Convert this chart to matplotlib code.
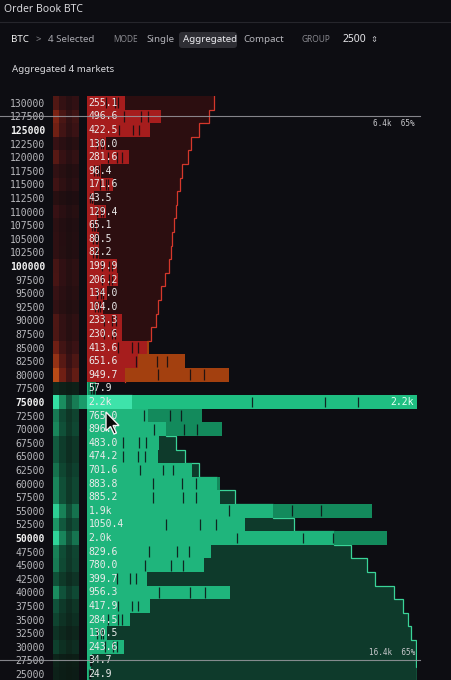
import matplotlib
matplotlib.use("Agg")
import matplotlib.pyplot as plt
import matplotlib.transforms as mtransforms
from matplotlib.patches import Polygon, FancyBboxPatch
from matplotlib.colors import LinearSegmentedColormap
import numpy as np

# Order book levels (price, aggregated size over 4 markets)
ask_prices = [130000, 127500, 125000, 122500, 120000, 117500, 115000, 112500, 110000,
              107500, 105000, 102500, 100000, 97500, 95000, 92500, 90000, 87500, 85000,
              82500, 80000]
ask_sizes = [255.1, 496.6, 422.5, 130.0, 281.6, 96.4, 171.6, 43.5, 129.4, 65.1, 80.5,
             82.2, 199.9, 206.2, 134.0, 104.0, 233.3, 230.6, 413.6, 651.6, 949.7]
bid_prices = [77500, 75000, 72500, 70000, 67500, 65000, 62500, 60000, 57500, 55000,
              52500, 50000, 47500, 45000, 42500, 40000, 37500, 35000, 32500, 30000,
              27500, 25000]
bid_sizes = [57.9, 2200, 765.0, 896.7, 483.0, 474.2, 701.6, 883.8, 885.2, 1900, 1050.4,
             2000, 829.6, 780.0, 399.7, 956.3, 417.9, 284.5, 130.5, 243.6, 34.7, 24.9]
# ask depth that sits below the first visible ask level
ask_depth_carry = 950.0
# rough share of each market inside one level
market_split = [0.5, 0.22, 0.1, 0.18]

major_prices = [125000, 100000, 75000, 50000]
hover_price = 75000
mark_prices = [127500, 27500]
mark_labels = ["6.4k", "16.4k"]
mark_pct = "65%"

BG = "#0d0d12"
MONO = "DejaVu Sans Mono"
SANS = ["Noto Sans", "DejaVu Sans"]
W, H = 452, 680
ROW_TOP = 96.0   # px, top edge of the first row
ROW_PX = 13.6    # px per row

fig = plt.figure(figsize=(W / 100, H / 100), dpi=100, facecolor=BG)

prices = ask_prices + bid_prices
n_rows = len(prices)
rows_ask = np.arange(len(ask_prices))
rows_bid = np.arange(len(ask_prices), n_rows)
y_hi = -0.5 + (H - ROW_TOP) / ROW_PX
ax_h = (H - ROW_TOP) / H


def fmt(v):
    return f"{v / 1000:.1f}k" if v >= 1500 else f"{v:.1f}"


def step_verts(depth, rws):
    verts = [(0, rws[0] - 0.5)]
    for d, r in zip(depth, rws):
        verts += [(d, r - 0.5), (d, r + 0.5)]
    verts.append((0, rws[-1] + 0.5))
    return verts


ask_depth = ask_depth_carry + np.cumsum(ask_sizes[::-1])[::-1]
bid_depth = np.cumsum(bid_sizes)

# cumulative depth axes (under), size axes (over)
ax_cum = fig.add_axes([87 / W, 0, 330 / W, ax_h])
ax_cum.set_facecolor(BG)
ax_cum.set_xlim(0, bid_depth[-1])
ax_cum.set_ylim(y_hi, -0.5)
ax_cum.axis("off")

ask_poly = Polygon(step_verts(ask_depth, rows_ask), closed=True, facecolor="#2c0e10", edgecolor="none")
bid_poly = Polygon(step_verts(bid_depth, rows_bid), closed=True, facecolor="#0e3a2b", edgecolor="none")
ax_cum.add_patch(ask_poly)
ax_cum.add_patch(bid_poly)
for depth, rws, col in [(ask_depth, rows_ask, "#d4372b"), (bid_depth, rows_bid, "#3ad398")]:
    v = np.array(step_verts(depth, rws)[1:-1])
    ax_cum.plot(v[:, 0], v[:, 1], color=col, lw=0.9, solid_joinstyle="miter")

ax_bar = ax_cum.twiny()
ax_bar.set_xlim(0, max(ask_sizes + bid_sizes))
ax_bar.set_ylim(y_hi, -0.5)
ax_bar.axis("off")

hover_row = prices.index(hover_price)
bid_beyond = ["#1fbf82" if r == hover_row else "#138a5c" for r in rows_bid]
bid_bright = ["#3ee3aa" if r == hover_row else "#1fb57c" for r in rows_bid]

# individual size bars: beyond depth is dimmer, inside depth is bright
ax_bar.barh(rows_ask, ask_sizes, height=1.0, color="#a3400f", lw=0)
ax_bar.barh(rows_bid, bid_sizes, height=1.0, color=bid_beyond, lw=0)
for b in ax_bar.barh(rows_ask, ask_sizes, height=1.0, color="#a61d1d", lw=0):
    b.set_clip_path(ask_poly)
for b in ax_bar.barh(rows_bid, bid_sizes, height=1.0, color=bid_bright, lw=0):
    b.set_clip_path(bid_poly)

# market separators inside each level
split_edges = np.cumsum(market_split)[:-1]
for rws, sizes in [(rows_ask, ask_sizes), (rows_bid, bid_sizes)]:
    for r, s in zip(rws, sizes):
        ax_bar.vlines(s * split_edges, r - 0.4, r + 0.4, color=BG, lw=0.9, alpha=0.85)

# size labels
for r, s in zip(list(rows_ask) + list(rows_bid), ask_sizes + bid_sizes):
    ax_bar.annotate(fmt(s), xy=(0, r), xytext=(1.2, 0), textcoords="offset points",
                    va="center", ha="left", fontsize=7, family=MONO, color="#ececec")
hover_size = bid_sizes[bid_prices.index(hover_price)]
ax_bar.annotate(fmt(hover_size), xy=(hover_size, hover_row), xytext=(-2, 0),
                textcoords="offset points", va="center", ha="right", fontsize=7,
                family=MONO, color="#e8fff5")

# per-market heat column
ax_heat = fig.add_axes([53 / W, 0, 26 / W, ax_h])
ax_heat.set_facecolor(BG)
split = np.array(market_split)
ask_heat = np.array(ask_sizes)[:, None] * split[None, :]
bid_heat = np.array(bid_sizes)[:, None] * split[None, :]
red_cmap = LinearSegmentedColormap.from_list("r", ["#160c0f", "#3a1214", "#7a2214", "#b84a16"])
green_cmap = LinearSegmentedColormap.from_list("g", ["#0c1712", "#0f4a34", "#1c9a68", "#33e0a3"])
xe = np.arange(5)
ax_heat.pcolormesh(xe, np.append(rows_ask - 0.5, rows_ask[-1] + 0.5), (ask_heat / ask_heat.max()) ** 0.6,
                   cmap=red_cmap, vmin=0, vmax=1)
ax_heat.pcolormesh(xe, np.append(rows_bid - 0.5, rows_bid[-1] + 0.5), (bid_heat / bid_heat.max()) ** 0.6,
                   cmap=green_cmap, vmin=0, vmax=1)
ax_heat.set_xlim(0, 4)
ax_heat.set_ylim(y_hi, -0.5)
for s in ax_heat.spines.values():
    s.set_visible(False)
ax_heat.set_xticks([])
ax_heat.set_yticks(np.arange(n_rows))
ax_heat.set_yticklabels([str(p) for p in prices], family=MONO, fontsize=7)
ax_heat.tick_params(axis="y", length=0, pad=5.8)
for lab, p in zip(ax_heat.get_yticklabels(), prices):
    lab.set_color("#f2f2f2" if p in major_prices else "#b9b9bd")
    if p in major_prices:
        lab.set_fontweight("bold")

# UI overlay in pixel coordinates
ui = fig.add_axes([0, 0, 1, 1], facecolor="none")
ui.set_xlim(0, W)
ui.set_ylim(H, 0)
ui.axis("off")

# hovered row band between heat column and bars
band = mtransforms.blended_transform_factory(ui.transData, ax_cum.transData)
ui.add_patch(plt.Rectangle((79, hover_row - 0.5), 8, 1, transform=band, color="#1a9b6a", lw=0))

# depth markers
for p, lab in zip(mark_prices, mark_labels):
    r = prices.index(p)
    ui.plot([0, 420], [r, r], transform=band, color="#9a9aa0", lw=0.8, alpha=0.85)
    dy = 0.55 if r < n_rows / 2 else -0.55
    ui.text(415, r + dy, f"{lab}  {mark_pct}", transform=band, ha="right", va="center",
            fontsize=5.5, family=MONO, color="#c8c8cc")

# header
ui.text(4, 10, "Order Book BTC", fontsize=7.5, family=SANS, color="#d8d8dc", va="center")
ui.plot([0, W], [22, 22], color="#26262c", lw=0.8)
ui.add_patch(FancyBboxPatch((179, 32), 58, 16, boxstyle="round,pad=0,rounding_size=3",
                            facecolor="#2e2e34", edgecolor="none"))
header = [(11, "BTC", "#f2f2f2", 7, "bold"), (36, ">", "#8d8d92", 7, "normal"),
          (48, "4 Selected", "#a8a8ae", 7, "normal"), (113, "MODE", "#86868c", 6, "normal"),
          (146, "Single", "#b4b4ba", 7, "normal"), (183, "Aggregated", "#ececf0", 7, "normal"),
          (243, "Compact", "#b4b4ba", 7, "normal"), (302, "GROUP", "#86868c", 6, "normal"),
          (343, "2500", "#e6e6ea", 7.5, "normal"), (370, "\u21d5", "#bdbdc2", 6, "normal")]
for x, t, c, fs, fw in header:
    ui.text(x, 40, t, fontsize=fs, family=SANS, color=c, fontweight=fw, va="center")
ui.text(12, 69, "Aggregated 4 markets", fontsize=7, family=SANS, color="#d8d8dc", va="center")

# mouse pointer
arrow = np.array([(0, 0), (0, 19), (4.5, 14.5), (8, 22), (10.5, 21), (7, 13.5), (13, 13.5)])
ui.add_patch(Polygon(arrow + np.array([106, 412]), closed=True, facecolor="#0a0a0a",
                     edgecolor="#f4f4f4", lw=1.0))

fig.savefig("out.png", dpi=100, facecolor=BG)
